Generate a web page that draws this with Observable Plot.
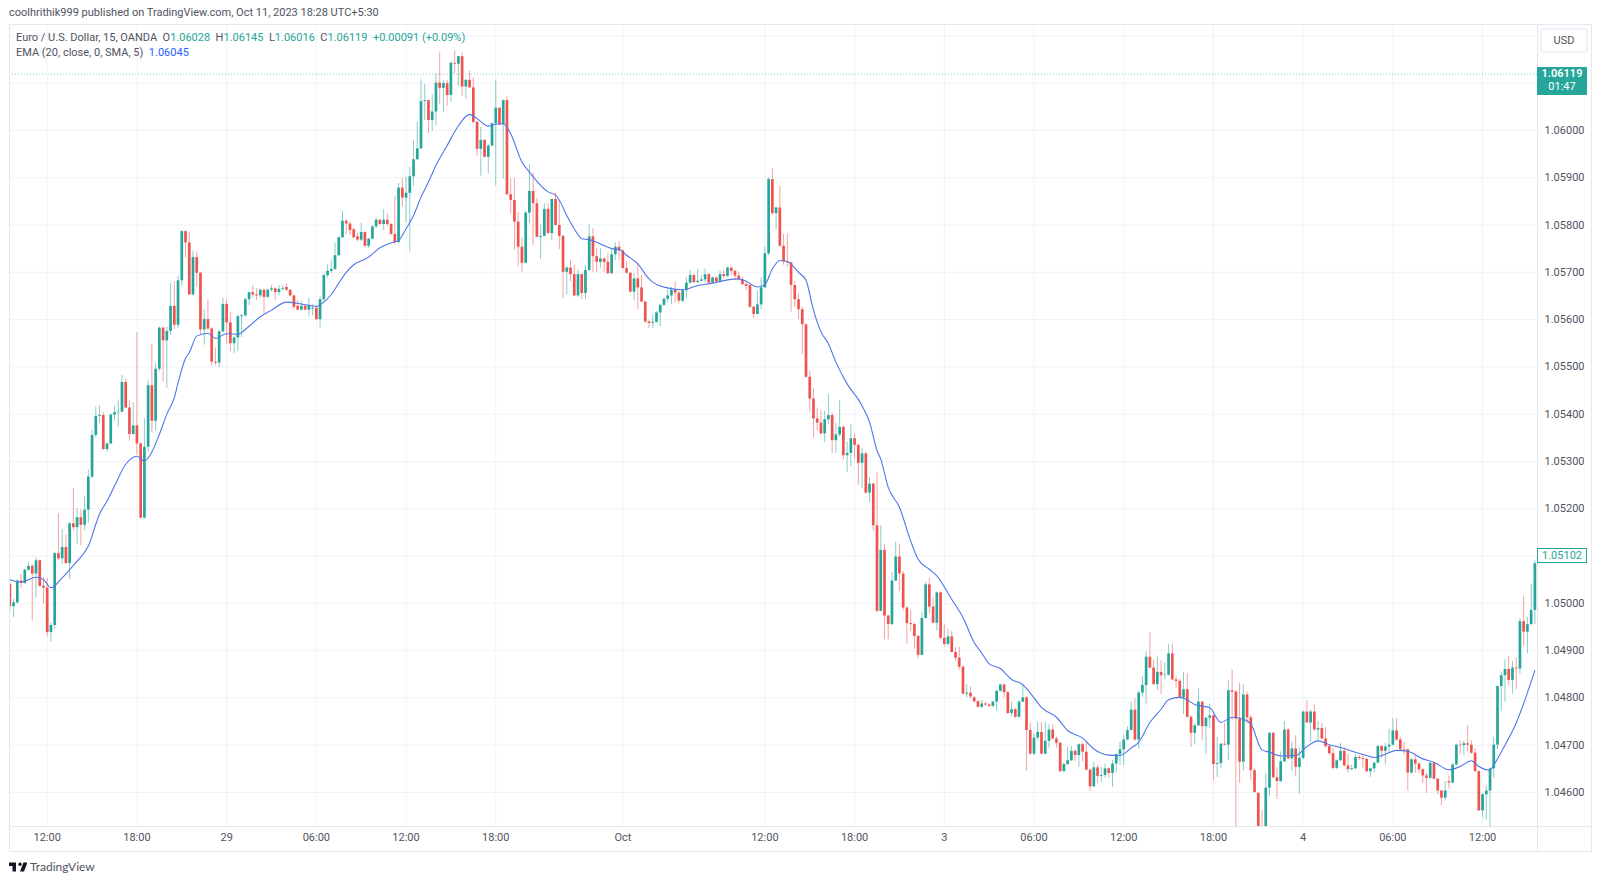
<!DOCTYPE html>
<html>
<head>
<meta charset="utf-8">
<script src="https://cdn.jsdelivr.net/npm/d3@7"></script>
<script src="https://cdn.jsdelivr.net/npm/@observablehq/plot@0.6"></script>
<style>
  body { margin: 0; background: #fff; font-family: Roboto, sans-serif; }
  #page { position: relative; width: 1600px; height: 883px; overflow: hidden; }
  #chart svg { position: absolute; left: 0; top: 0; }
  .txt { position: absolute; white-space: pre; font-size: 11px; color: #50535e; line-height: 14px; }
  .up { color: #26a69a; }
  .line { position: absolute; background: #e6e8ef; }
  .tag { position: absolute; box-sizing: border-box; text-align: center; font-size: 11px; }
</style>
</head>
<body>
<div id="page">
  <div id="chart"></div>
  <div class="line" style="left:9px;top:24px;width:1583px;height:1px"></div>
  <div class="line" style="left:9px;top:851px;width:1583px;height:1px"></div>
  <div class="line" style="left:9px;top:24px;width:1px;height:828px"></div>
  <div class="line" style="left:1591px;top:24px;width:1px;height:828px"></div>
  <div class="line" style="left:9px;top:826px;width:1583px;height:1px"></div>
  <div class="line" style="left:1537px;top:24px;width:1px;height:828px"></div>
  <div class="txt" style="left:9px;top:6px">coolhrithik999 published on TradingView.com, Oct 11, 2023 18:28 UTC+5:30</div>
  <div class="txt" style="left:16px;top:31px">Euro / U.S. Dollar, 15, OANDA  O<span class="up">1.06028</span>  H<span class="up">1.06145</span>  L<span class="up">1.06016</span>  C<span class="up">1.06119</span>  <span class="up">+0.00091 (+0.09%)</span></div>
  <div class="txt" style="left:16px;top:46px">EMA (20, close, 0, SMA, 5)  <span style="color:#2962ff">1.06045</span></div>
  <div class="tag" style="left:1540px;top:28px;width:48px;height:25px;line-height:22px;border:2px solid #f0f3fa;border-radius:4px;color:#50535e">USD</div>
  <svg style="position:absolute;left:9px;top:861px" width="18" height="12" viewBox="0 0 36 24"><path fill="#131722" d="M14 3H0v7h7v11h7V3zm16 18h-8l7-18h8l-7 18zm-8-11a3.5 3.5 0 1 0 0-7 3.5 3.5 0 0 0 0 7z"/></svg>
  <div class="txt" style="left:30px;top:860px;font-family:Lato,sans-serif;font-size:12px;color:#50535e">TradingView</div>
</div>
<script>
// quotes are in points above 1.00000, one value per 15 minute bar
const opens = [
  5040,4993,5001,5047,5042,5070,5078,5062,5090,5036,
  5032,4938,4953,5105,5094,5118,5084,5168,5160,5181,
  5165,5197,5267,5355,5395,5397,5325,5337,5398,5403,
  5404,5467,5413,5357,5375,5337,5180,5330,5460,5385,
  5495,5582,5555,5575,5628,5588,5682,5786,5762,5652,
  5731,5698,5578,5600,5580,5510,5508,5574,5632,5593,
  5549,5561,5606,5608,5642,5657,5652,5650,5662,5647,
  5662,5665,5657,5664,5668,5662,5650,5628,5620,5628,
  5620,5622,5624,5600,5642,5693,5702,5706,5735,5773,
  5808,5802,5790,5775,5768,5784,5755,5770,5796,5810,
  5801,5810,5801,5780,5763,5878,5857,5867,5902,5938,
  5961,6061,6063,6021,6039,6100,6089,6099,6074,6142,
  6140,6156,6092,6106,6090,6017,5960,5979,5943,5967,
  6014,6047,6012,6063,5864,5852,5806,5753,5719,5825,
  5871,5845,5774,5776,5833,5782,5854,5799,5776,5700,
  5709,5695,5650,5695,5655,5704,5775,5733,5721,5728,
  5721,5697,5737,5753,5745,5708,5698,5658,5686,5667,
  5637,5595,5592,5594,5614,5630,5643,5650,5662,5656,
  5639,5661,5677,5693,5678,5681,5684,5695,5677,5688,
  5679,5695,5691,5709,5702,5692,5684,5674,5672,5626,
  5611,5631,5667,5739,5896,5824,5836,5755,5722,5720,
  5672,5642,5621,5589,5478,5432,5390,5381,5358,5388,
  5397,5344,5356,5372,5312,5317,5348,5334,5296,5316,
  5233,5252,5164,4983,5112,4973,4955,5047,5098,5062,
  4990,4957,4955,4930,4890,4968,5039,4992,4958,5022,
  4926,4913,4929,4896,4884,4865,4808,4810,4800,4792,
  4780,4787,4785,4782,4791,4814,4827,4811,4767,4775,
  4759,4791,4800,4731,4681,4715,4727,4681,4708,4732,
  4713,4704,4644,4659,4667,4687,4678,4701,4685,4647,
  4612,4652,4634,4636,4650,4640,4660,4680,4690,4711,
  4731,4774,4711,4810,4826,4886,4863,4828,4854,4847,
  4848,4893,4838,4835,4800,4817,4759,4725,4741,4791,
  4739,4757,4762,4659,4661,4702,4700,4815,4812,4755,
  4664,4806,4758,4646,4598,4526,4520,4609,4725,4631,
  4623,4665,4732,4671,4692,4653,4672,4770,4747,4770,
  4732,4735,4713,4697,4682,4651,4667,4687,4656,4648,
  4650,4674,4672,4670,4644,4650,4662,4697,4687,4696,
  4700,4730,4711,4690,4690,4641,4669,4660,4648,4635,
  4630,4662,4628,4603,4588,4623,4620,4658,4700,4699,
  4703,4700,4683,4644,4561,4595,4603,4650,4700,4824,
  4847,4860,4837,4863,4861,4961,4939,4955,4985
];
const highs = [
  5043,5008,5050,5061,5072,5087,5082,5096,5092,5054,
  5052,4958,5108,5190,5156,5145,5170,5243,5200,5198,
  5225,5281,5365,5415,5417,5403,5339,5400,5417,5430,
  5482,5476,5428,5424,5572,5340,5390,5470,5547,5507,
  5584,5584,5584,5676,5680,5692,5788,5788,5784,5745,
  5743,5700,5620,5642,5583,5540,5578,5645,5642,5615,
  5565,5610,5610,5645,5658,5672,5665,5665,5665,5665,
  5672,5668,5672,5672,5676,5663,5652,5640,5638,5632,
  5645,5632,5626,5648,5697,5716,5726,5762,5776,5829,
  5811,5806,5793,5782,5804,5786,5772,5798,5815,5812,
  5832,5823,5803,5860,5888,5898,5901,5922,5978,6017,
  6107,6097,6064,6076,6120,6164,6105,6105,6145,6169,
  6157,6164,6107,6125,6111,6019,6007,5980,5970,6016,
  6106,6048,6065,6072,5898,5898,5826,5773,5828,5928,
  5910,5856,5800,5845,5845,5855,5868,5852,5778,5712,
  5725,5715,5704,5697,5714,5800,5792,5750,5750,5731,
  5739,5748,5762,5764,5747,5723,5700,5697,5717,5693,
  5638,5597,5609,5617,5633,5645,5665,5668,5680,5660,
  5664,5688,5703,5697,5706,5693,5707,5698,5690,5690,
  5702,5704,5711,5711,5704,5700,5690,5679,5675,5628,
  5660,5688,5753,5900,5919,5838,5882,5780,5781,5722,
  5680,5654,5627,5591,5490,5454,5413,5408,5406,5442,
  5402,5380,5428,5376,5341,5378,5358,5336,5327,5320,
  5266,5254,5277,5164,5125,4975,5065,5129,5125,5067,
  4993,4985,4958,4932,4980,5044,5053,5013,5024,5024,
  4955,4945,4941,4906,4907,4867,4828,4823,4803,4794,
  4795,4790,4788,4793,4816,4829,4829,4813,4791,4778,
  4795,4829,4803,4746,4724,4748,4748,4748,4743,4743,
  4717,4706,4662,4695,4697,4690,4703,4706,4706,4650,
  4664,4658,4653,4660,4652,4667,4682,4706,4720,4739,
  4791,4798,4814,4845,4897,4937,4880,4887,4879,4874,
  4913,4914,4845,4840,4854,4851,4762,4745,4819,4793,
  4759,4787,4764,4717,4704,4746,4836,4859,4815,4830,
  4828,4812,4763,4650,4600,4562,4640,4727,4727,4652,
  4686,4750,4735,4706,4720,4694,4772,4794,4774,4785,
  4750,4746,4737,4700,4693,4669,4704,4695,4681,4658,
  4680,4678,4681,4672,4652,4664,4699,4699,4704,4733,
  4756,4756,4717,4706,4692,4672,4680,4662,4650,4640,
  4664,4664,4630,4605,4623,4635,4662,4702,4709,4709,
  4741,4709,4692,4646,4598,4614,4652,4716,4826,4855,
  4881,4887,4877,4884,4968,5015,4970,5041,5090
];
const lows = [
  4980,4970,4998,5032,5040,5068,4962,5012,5034,4998,
  4930,4918,4945,5090,5082,5082,5050,5152,5125,5122,
  5153,5169,5263,5350,5380,5324,5320,5335,5385,5372,
  5403,5412,5343,5356,5315,5179,5178,5320,5360,5365,
  5490,5468,5455,5567,5579,5580,5671,5730,5651,5650,
  5669,5569,5546,5578,5502,5502,5498,5572,5548,5533,
  5528,5533,5562,5605,5630,5646,5640,5645,5612,5645,
  5658,5640,5650,5660,5660,5648,5622,5618,5618,5618,
  5606,5608,5598,5582,5637,5688,5698,5704,5733,5771,
  5780,5778,5770,5765,5765,5753,5750,5768,5792,5799,
  5788,5797,5778,5758,5760,5838,5804,5743,5882,5937,
  5960,6021,5994,5998,6010,6056,6038,6051,6060,6120,
  6093,6072,6065,6089,6014,5945,5903,5942,5908,5965,
  5883,6010,5897,5862,5824,5747,5712,5700,5718,5803,
  5757,5773,5727,5775,5780,5766,5798,5748,5644,5652,
  5680,5648,5647,5642,5642,5702,5700,5700,5709,5700,
  5695,5695,5725,5725,5706,5696,5656,5640,5621,5636,
  5591,5581,5581,5592,5585,5628,5635,5632,5635,5633,
  5636,5644,5675,5676,5677,5680,5678,5676,5676,5678,
  5677,5686,5690,5693,5683,5682,5672,5661,5624,5602,
  5611,5621,5665,5735,5820,5790,5754,5715,5710,5616,
  5626,5600,5526,5476,5404,5350,5365,5357,5340,5378,
  5316,5317,5352,5303,5277,5288,5305,5249,5242,5230,
  5213,5152,4980,4982,4923,4923,4953,5046,5025,4984,
  4913,4940,4903,4883,4889,4966,4977,4957,4941,4924,
  4907,4910,4895,4878,4858,4806,4800,4798,4788,4778,
  4778,4782,4780,4780,4772,4812,4800,4765,4760,4757,
  4757,4789,4645,4679,4678,4709,4680,4679,4694,4712,
  4694,4642,4642,4657,4665,4665,4653,4665,4646,4602,
  4610,4618,4621,4630,4629,4611,4642,4657,4657,4709,
  4730,4708,4692,4801,4787,4862,4827,4815,4807,4838,
  4846,4836,4820,4798,4765,4757,4695,4701,4739,4710,
  4681,4736,4625,4632,4650,4698,4667,4752,4520,4619,
  4646,4745,4625,4598,4520,4510,4510,4591,4630,4585,
  4621,4663,4669,4644,4634,4596,4670,4746,4706,4730,
  4708,4711,4693,4678,4648,4648,4665,4654,4641,4646,
  4648,4668,4651,4642,4632,4642,4660,4672,4658,4684,
  4698,4708,4688,4680,4603,4638,4641,4640,4619,4598,
  4628,4626,4595,4572,4582,4607,4618,4656,4680,4678,
  4686,4681,4643,4560,4547,4542,4522,4630,4690,4771,
  4791,4826,4808,4817,4850,4909,4893,4953,4955
];
const closes = [
  4993,5001,5047,5042,5070,5078,5062,5090,5036,5032,
  4938,4953,5105,5094,5118,5084,5168,5160,5181,5165,
  5197,5267,5355,5395,5397,5325,5337,5398,5403,5404,
  5467,5413,5357,5375,5337,5180,5330,5460,5385,5495,
  5582,5555,5575,5628,5588,5682,5786,5762,5652,5731,
  5698,5578,5600,5580,5510,5508,5574,5632,5593,5549,
  5561,5606,5608,5642,5657,5652,5650,5662,5647,5662,
  5665,5657,5664,5666,5662,5650,5626,5620,5628,5620,
  5630,5624,5600,5642,5693,5702,5706,5735,5773,5808,
  5802,5788,5773,5768,5784,5755,5770,5796,5810,5801,
  5810,5801,5780,5763,5878,5857,5867,5902,5938,5961,
  6061,6063,6021,6039,6100,6089,6099,6074,6142,6140,
  6156,6092,6106,6090,6017,5960,5979,5943,5967,6014,
  6047,6012,6063,5864,5852,5806,5753,5719,5825,5871,
  5845,5774,5776,5833,5782,5854,5799,5776,5700,5709,
  5695,5650,5695,5655,5704,5775,5733,5721,5728,5721,
  5697,5737,5753,5745,5708,5698,5658,5686,5667,5637,
  5595,5592,5594,5614,5630,5643,5650,5662,5656,5639,
  5661,5677,5693,5678,5681,5684,5695,5677,5688,5679,
  5695,5691,5709,5702,5692,5684,5674,5670,5626,5611,
  5631,5667,5739,5896,5824,5836,5755,5722,5720,5672,
  5642,5621,5589,5478,5432,5390,5381,5358,5388,5397,
  5344,5356,5372,5312,5317,5348,5334,5296,5316,5233,
  5252,5164,4983,5112,4973,4955,5047,5098,5062,4990,
  4957,4955,4930,4890,4968,5039,4992,4958,5022,4926,
  4913,4929,4896,4884,4865,4808,4810,4802,4792,4780,
  4787,4785,4782,4791,4814,4827,4811,4767,4775,4759,
  4791,4800,4731,4681,4715,4727,4681,4708,4732,4713,
  4704,4644,4659,4667,4687,4678,4701,4685,4647,4612,
  4652,4634,4636,4650,4640,4660,4680,4690,4711,4731,
  4774,4711,4810,4826,4886,4863,4828,4854,4847,4848,
  4893,4838,4835,4800,4817,4759,4725,4741,4791,4739,
  4757,4762,4659,4661,4702,4700,4815,4812,4755,4664,
  4806,4758,4646,4600,4526,4520,4609,4725,4631,4623,
  4665,4732,4671,4692,4653,4672,4770,4747,4770,4732,
  4735,4713,4697,4682,4651,4667,4687,4656,4648,4650,
  4674,4672,4670,4644,4650,4662,4697,4687,4696,4700,
  4730,4711,4690,4688,4641,4669,4660,4648,4635,4630,
  4662,4628,4603,4588,4603,4620,4658,4700,4699,4703,
  4700,4683,4644,4561,4595,4603,4650,4700,4824,4847,
  4860,4837,4863,4861,4961,4939,4955,4985,5084
];

// EMA read at these bars
const emaBars = [0,3,7,9,11,14,16,18,21,24,26,28,31,34,36,38,40,42,44,45,47,48,50,53,55,58,61,64,67,70,
  74,78,82,84,86,88,90,92,96,99,102,104,106,108,110,112,114,117,120,123,125,128,130,132,134,137,139,142,144,146,
  147,149,151,153,155,158,161,163,165,168,171,173,176,180,184,188,192,195,197,200,202,204,206,208,211,213,215,217,219,221,
  224,228,230,232,233,235,238,241,243,246,248,252,255,258,260,262,265,268,271,274,276,280,283,287,290,294,297,300,302,305,
  308,310,313,315,317,321,324,327,330,332,335,337,340,344,347,350,353,356,360,363,365,368,371,374,378,381,385,388,391,393,
  396,397,400,403,408];
const emaValues = [5050,5045,5055,5050,5033,5054,5071,5089,5121,5189,5216,5248,5294,5311,5301,5320,5357,5400,5435,5466,5518,5530,5565,5571,5560,5570,5569,5586,5606,5620,
  5637,5633,5628,5637,5653,5677,5700,5716,5732,5752,5762,5767,5792,5820,5859,5891,5926,5968,6010,6034,6025,6009,6013,6014,5993,5933,5912,5884,5870,5863,
  5853,5820,5792,5771,5769,5760,5750,5748,5736,5718,5686,5674,5667,5663,5672,5677,5684,5686,5681,5669,5674,5707,5725,5723,5700,5683,5620,5574,5549,5510,
  5464,5418,5383,5323,5305,5245,5203,5132,5093,5072,5058,5008,4970,4917,4895,4872,4862,4839,4828,4800,4780,4759,4731,4715,4692,4679,4678,4694,4706,4748,
  4776,4796,4801,4796,4786,4779,4748,4759,4755,4745,4690,4685,4677,4678,4697,4709,4701,4695,4685,4678,4674,4681,4689,4687,4671,4664,4648,4655,4667,4655,
  4647,4658,4700,4747,4858];

const tickBars = [10,34,58,82,106,130,164,202,226,250,274,298,322,346,370,394];
const tickLabels = ["12:00","18:00","29","06:00","12:00","18:00","Oct","12:00","18:00","3","06:00","12:00","18:00","4","06:00","12:00"];
const priceTicks = [1.046,1.047,1.048,1.049,1.05,1.051,1.052,1.053,1.054,1.055,1.056,1.057,1.058,1.059,1.06];
const priceGrid = [...priceTicks,1.061,1.062];

const lastClose = 1.06119; // live price shown in the green tag
const shownPrice = 1.05102; // outlined tag on the axis

const green = "#26a69a", red = "#ef5350", gridColor = "#f0f3fa";
const price = p => 1 + p / 100000;

const bars = opens.map((o, i) => ({
  i,
  open: price(o),
  high: price(highs[i]),
  low: price(lows[i]),
  close: price(closes[i]),
  color: closes[i] >= o ? green : red
}));
const ema = emaBars.map((b, k) => ({ i: b, v: price(emaValues[k]) }));

let chart = Plot.plot({
  width: 1600,
  height: 883,
  marginLeft: 9,
  marginRight: 63,
  marginTop: 24,
  marginBottom: 57,
  x: { type: "linear", domain: [-0.09, 408.7] },
  y: { domain: [1.04528, 1.06224] },
  style: { fontFamily: 'Roboto, sans-serif', fontSize: "11px", background: "transparent", color: "#50535e" },
  marks: [
    Plot.ruleX(tickBars, { stroke: gridColor }),
    Plot.ruleY(priceGrid, { stroke: gridColor }),
    Plot.axisX(tickBars, { anchor: "bottom", tickSize: 0, tickPadding: 7, label: null, tickFormat: d => tickLabels[tickBars.indexOf(d)] }),
    Plot.axisY(priceTicks, { anchor: "right", tickSize: 0, tickPadding: 7, label: null, tickFormat: d => d.toFixed(5) }),
    Plot.ruleY([lastClose], { stroke: green, strokeDasharray: "1,2", strokeOpacity: 0.6 }),
    Plot.ruleX(bars, { x: "i", y1: "low", y2: "high", stroke: "color", strokeWidth: 1, strokeOpacity: 0.55, clip: true }),
    Plot.ruleX(bars, { x: "i", y1: "open", y2: "close", stroke: "color", strokeWidth: 2.7, clip: true }),
    Plot.line(ema, { x: "i", y: "v", stroke: "#4f75ea", strokeWidth: 1.1, curve: "monotone-x", clip: true })
  ]
});

d3.select("#chart").append(() => chart);

// price tags sit on the axis, placed from the chart's own y scale
const yAt = chart.scale("y").apply;
const page = d3.select("#page");
page.append("div").attr("class", "tag")
  .style("left", "1537px").style("width", "50px")
  .style("top", (yAt(lastClose) - 7) + "px").style("height", "28px")
  .style("background", green).style("color", "#fff").style("line-height", "13.5px").style("font-weight", "600")
  .html("1.06119<br><span style='font-weight:400'>01:47</span>");
page.append("div").attr("class", "tag")
  .style("left", "1537px").style("width", "50px")
  .style("top", (yAt(shownPrice) - 7) + "px").style("height", "15px")
  .style("border", "1px solid " + green).style("background", "#fff").style("color", green).style("line-height", "13px")
  .text("1.05102");
</script>
</body>
</html>
